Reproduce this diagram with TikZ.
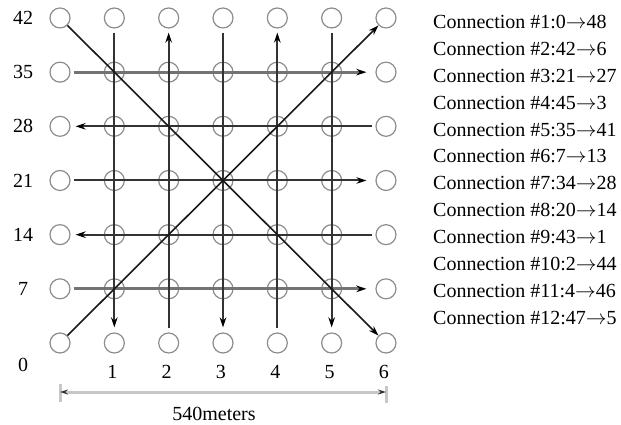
\documentclass[tikz,border=0pt]{standalone}
\usepackage{fontspec}
\setmainfont{Liberation Serif}
\usetikzlibrary{arrows.meta}
\begin{document}
\begin{tikzpicture}[x=1pt,y=-1pt,
  txt/.style={font=\fontsize{20}{24}\selectfont, inner sep=0pt},
  site/.style={circle, draw=black!45, line width=1.2pt, minimum size=20pt, inner sep=0pt},
  link/.style={draw=black!80, line width=2pt},
  wide/.style={draw=black!55, line width=3pt},
  diag/.style={draw=black!90, line width=1.6pt},
  tip/.style={-{Stealth[length=10pt,width=6.5pt,black]}},
  dim/.style={draw=black!22, line width=3pt}
]
\useasboundingbox (0,0) rectangle (621,425);
% sites
\foreach \r in {0,...,6}{
  \foreach \c in {0,...,6}{
    \pgfmathtruncatemacro{\id}{\r*7+\c}
    \node[site] (n\id) at ({60+54.33*\c},{343-54.17*\r}) {};
  }
}
% row labels
\foreach \r/\t in {1/7,2/14,3/21,4/28,5/35,6/42}{
  \node[txt] (rl\r) at (23,{343-54.17*\r}) {\t};
}
\node[txt] (rl0) at (23,365) {0};
% column labels
\foreach \c in {1,...,6}{
  \node[txt] (cl\c) at ({58+54.33*\c},372) {\c};
}
% horizontal connections
\draw[wide,tip,shorten <=3pt,shorten >=9pt] (n35) -- (n41);
\draw[wide,tip,shorten <=3pt,shorten >=9pt] (n7) -- (n13);
\draw[link,tip,shorten <=3pt,shorten >=9pt] (n21) -- (n27);
\draw[link,tip,shorten <=3pt,shorten >=5pt] (n34) -- (n28);
\draw[link,tip,shorten <=3pt,shorten >=5pt] (n20) -- (n14);
% vertical connections
\draw[link,tip,shorten <=4pt,shorten >=5pt] (n43) -- (n1);
\draw[link,tip,shorten <=4pt,shorten >=4pt] (n2) -- (n44);
\draw[link,tip,shorten <=4pt,shorten >=5pt] (n45) -- (n3);
\draw[link,tip,shorten <=4pt,shorten >=4pt] (n4) -- (n46);
\draw[link,tip,shorten <=4pt,shorten >=5pt] (n47) -- (n5);
% diagonals
\draw[diag,tip] (n0) -- (n48);
\draw[diag,tip] (n42) -- (n6);
% dimension
\coordinate (dl) at (60,392);
\coordinate (dr) at (386,392);
\draw[dim] (60,384) -- (60,402);
\draw[dim] (386,386) -- (386,403);
\draw[dim,{Stealth[length=8pt,width=5pt,black!80]}-{Stealth[length=8pt,width=5pt,black!80]}] (dl) -- (dr);
\node[txt,anchor=base] (dimlab) at (214,420) {540meters};
% connection list
\foreach \k/\t in {1/{0$\rightarrow$48},2/{42$\rightarrow$6},3/{21$\rightarrow$27},4/{45$\rightarrow$3},5/{35$\rightarrow$41},6/{7$\rightarrow$13},7/{34$\rightarrow$28},8/{20$\rightarrow$14},9/{43$\rightarrow$1},10/{2$\rightarrow$44},11/{4$\rightarrow$46},12/{47$\rightarrow$5}}{
  \node[txt,anchor=west] (c\k) at (433,{22+26.9*(\k-1)}) {Connection \#\k:\t};
}
\end{tikzpicture}
\end{document}
